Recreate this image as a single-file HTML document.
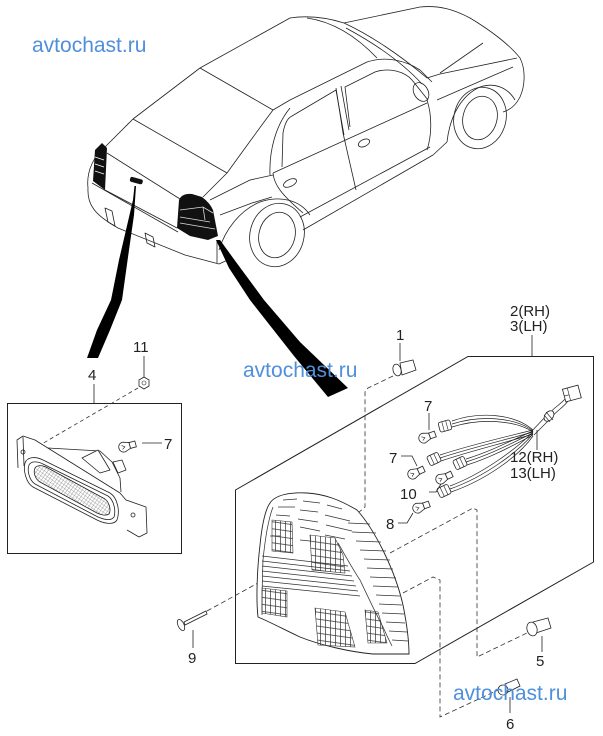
<!DOCTYPE html>
<html><head><meta charset="utf-8"><style>
html,body{margin:0;padding:0;background:#fff;}
svg{display:block;}
.t{font-family:"Liberation Sans",Arial,sans-serif;font-size:15px;fill:#222;}
.w{font-family:"Liberation Sans",Arial,sans-serif;font-size:21px;fill:#4f8fdb;}
</style></head><body>
<svg width="603" height="736" viewBox="0 0 603 736" xmlns="http://www.w3.org/2000/svg">
<defs>
<pattern id="grid" width="5" height="7" patternUnits="userSpaceOnUse" patternTransform="skewY(8)">
<path d="M0.5,0 V7 M0,0.5 H5" stroke="#333" stroke-width="0.7" fill="none"/>
</pattern>
<pattern id="hatch" width="3" height="3" patternUnits="userSpaceOnUse" patternTransform="rotate(35)">
<path d="M0,0 H3 M0,0 V3" stroke="#666" stroke-width="0.6" fill="none"/>
</pattern>
<g id="bulb">
<path d="M0,-5 C-7,-5 -7,5 0,5 L6,3 L6,-3 Z" fill="#fff" stroke="#222" stroke-width="0.8"/>
<rect x="6" y="-3" width="6" height="6" fill="#fff" stroke="#222" stroke-width="0.8"/>
<path d="M-2,-2 L1,0 L-2,2" fill="none" stroke="#222" stroke-width="0.6"/>
</g>
<g id="sock">
<rect x="-6" y="-5" width="12" height="10" rx="2" fill="#fff" stroke="#222" stroke-width="0.8"/>
<path d="M-2,-5 V5 M2,-5 V5" stroke="#222" stroke-width="0.6"/>
</g>
</defs>

<!-- ============ CAR ============ -->
<g fill="none" stroke="#222" stroke-width="0.8" stroke-linejoin="round">
<path d="M88,188 C86,170 95,155 105,147 L133,119 L200,68 L290,18 C310,15 328,18 344,23"/>
<path d="M200,68 L273,110"/>
<path d="M133,119 L227,173"/>
<path d="M227,173 C240,155 258,130 273,110"/>
<path d="M273,110 L290,100 L367,62 C385,56 405,60 420,70 L432,82"/>
<path d="M307,18 C335,22 358,38 377,58"/>
<path d="M344,23 C370,35 400,55 427,78"/>
<path d="M346,28 C372,42 400,60 422,84"/>
<path d="M344,23 L420,7 C440,5 455,10 470,18 C490,30 510,45 520,58 C526,70 525,86 520,97 C516,105 510,110 503,112"/>
<path d="M427,78 L440,74 L517,58"/>
<path d="M440,73 L483,43"/>
<path d="M437,100 L513,67"/>
<path d="M270,175 C269,150 276,125 290,108"/>
<path d="M282,167 L283,133 C285,122 288,118 292,116 L336,90 L344,135"/>
<path d="M350,127 L345,87 L375,72 C390,67 405,72 412,80 L428,100"/>
<path d="M336,88 L343,133 L356,190 M341,86 L349,130"/>
<path d="M273,173 L427,103"/>
<path d="M300,217 L430,147"/>
<path d="M303,230 L433,155"/>
<path d="M427,100 C432,115 432,135 427,150"/>
<path d="M273,173 C274,185 282,195 303,213"/>
<ellipse cx="421" cy="92" rx="7" ry="10" transform="rotate(-30 421 92)"/>
<ellipse cx="290" cy="183" rx="7" ry="3.5" transform="rotate(-25 290 183)"/>
<ellipse cx="364" cy="143" rx="6" ry="3.5" transform="rotate(-25 364 143)"/>
<ellipse cx="480" cy="118" rx="26" ry="31" transform="rotate(15 480 118)"/>
<ellipse cx="480" cy="118" rx="17" ry="22" transform="rotate(15 480 118)"/>
<path d="M447,142 C450,115 462,95 480,87 C495,82 508,88 515,100"/>
<path d="M433,155 L447,142"/>
<ellipse cx="277" cy="235" rx="27" ry="32" transform="rotate(15 277 235)"/>
<ellipse cx="277" cy="235" rx="18" ry="23" transform="rotate(15 277 235)"/>
<path d="M219,250 C225,230 240,210 260,202 C280,195 300,200 310,215"/>
<path d="M210,200 L250,180 L273,175 M220,215 L252,203 L272,197"/>
<path d="M217,240 L217,263"/>
<path d="M88,188 C87,205 95,215 118,228 L185,255 L219,264 L232,258"/>
<path d="M92,183 L178,232"/>
<path d="M107,153 L180,199"/>
<path d="M227,173 L203,197"/>
<path d="M105,190 L177,228"/>
<path d="M105,208 L108,222 L115,226 L112,211 Z M145,233 L147,243 L155,247 L153,237 Z"/>
</g>
<!-- tail lights -->
<path d="M102,143 L107,148 L105,190 L93,181 L95,150 Z" fill="#111"/>
<path d="M95,157 L104,160 M95,164 L104,167 M95,171 L104,174" stroke="#fff" stroke-width="0.8"/>
<path d="M179,200 Q182,193 192,194 L202,197 Q210,203 213,210 L218,236 L208,240 L190,236 L177,228 Z" fill="#111"/>
<path d="M180,210 L203,207 L213,213 M180,217 L210,222 M180,223 L215,229 M203,207 L205,220" stroke="#ddd" stroke-width="0.8" fill="none"/>
<rect x="130" y="178" width="13" height="5" rx="2" fill="#111" transform="rotate(15 136 180)"/>
<!-- thick leaders -->
<path d="M134.5,186 L136,186 L134,215 L129,250 L122,300 L110,330 L98,358 L87,358 L97,330 L111,300 L119,260 L126,230 L133,200 Z" fill="#000"/>
<path d="M216,240 L220,240 L236,262 L264,300 L300,342 L348,388 L328,397 L294,356 L250,300 L229,268 Z" fill="#000"/>

<!-- ============ BOX 4 ============ -->
<rect x="7.5" y="403.5" width="174" height="150" fill="none" stroke="#222" stroke-width="1"/>
<text class="t" x="88" y="380">4</text>
<path d="M94,384 V403" stroke="#222" stroke-width="0.8"/>
<text class="t" x="133" y="352">11</text>
<path d="M144,356 V377" stroke="#222" stroke-width="0.8"/>
<polygon points="144,377 149,380 149,386 144,389 139,386 139,380" fill="#fff" stroke="#222" stroke-width="0.8"/>
<circle cx="144" cy="383" r="2" fill="none" stroke="#222" stroke-width="0.6"/>
<path d="M138,388 L40,445" stroke="#333" stroke-width="0.8" stroke-dasharray="4,3" fill="none"/>
<text class="t" x="164" y="449">7</text>
<path d="M142,443 H162" stroke="#222" stroke-width="0.8"/>
<use href="#bulb" transform="translate(124,447) rotate(-15)"/>
<g fill="none" stroke="#222" stroke-width="0.8" stroke-linejoin="round">
<path d="M18,468 L17,440 L23,436 L35,440 L120,493 L126,500 L146,507 L147,533 L139,537 L127,530" fill="#fff"/>
<path d="M23,437 L24,466"/>
<path d="M48,448 L100,451 L112,462 L120,478 L121,492"/>
<path d="M82,458 L98,450 L110,470 L100,473 Z" fill="#fff"/>
<path d="M113,462 L122,460 L126,470 L118,473 Z" fill="#fff"/>
<circle cx="23" cy="452" r="2"/>
<circle cx="133" cy="515" r="2"/>
<path d="M25,463 C27,457 35,456 43,460 L110,493 C118,498 120,512 117,520 C114,525 105,524 97,520 L33,487 C26,483 23,470 25,463 Z" fill="#fff"/>
<path d="M29,465 C31,461 37,461 43,464 L108,496 C114,500 116,511 114,517 C111,521 105,520 98,517 L35,484 C29,480 27,470 29,465 Z"/>
<path d="M35,468 C37,465 42,465 46,467 L105,499 C110,503 111,511 109,514 C106,516 101,515 97,513 L40,482 C35,479 33,472 35,468 Z" fill="url(#hatch)"/>
</g>

<!-- ============ BOX 2/3 ============ -->
<polygon points="468,356.5 593.5,356.5 593.5,562 415,663.5 235.5,663.5 235.5,490" fill="none" stroke="#222" stroke-width="1"/>
<text class="t" x="510" y="316">2(RH)</text>
<text class="t" x="510" y="331">3(LH)</text>
<path d="M532,335 V356" stroke="#222" stroke-width="0.8"/>
<text class="t" x="396" y="340">1</text>
<path d="M400,343 V361" stroke="#222" stroke-width="0.8"/>
<g fill="#fff" stroke="#222" stroke-width="0.8">
<path d="M400,363 L413,360 L416,370 L402,375 Z"/>
<ellipse cx="397" cy="370" rx="4" ry="6" transform="rotate(-15 397 370)"/>
<path d="M533,622 L548,618 L551,628 L536,633 Z"/>
<ellipse cx="532" cy="629" rx="5" ry="7" transform="rotate(-15 532 629)"/>
<path d="M505,684 L517,679 L520,686 L508,692 Z"/>
<ellipse cx="503" cy="690" rx="5" ry="5" transform="rotate(-15 503 690)"/>
<path d="M184,622 L206,611 L207,614 L185,625 Z"/>
<ellipse cx="181" cy="625" rx="3" ry="6" transform="rotate(-25 181 625)"/>
</g>
<text class="t" x="536" y="666">5</text>
<path d="M542,636 V652" stroke="#222" stroke-width="0.8"/>
<text class="t" x="506" y="729">6</text>
<path d="M510,697 V713" stroke="#222" stroke-width="0.8"/>
<text class="t" x="188" y="663">9</text>
<path d="M193,630 V648" stroke="#222" stroke-width="0.8"/>

<!-- dashed -->
<g fill="none" stroke="#333" stroke-width="0.8" stroke-dasharray="5,3">
<path d="M393,376 L368,388 L365,392 L365,507 L358,513"/>
<path d="M390,553 L473,508 L477,510 L477,657 L527,633"/>
<path d="M403,593 L433,577 L440,580 L440,717 L498,690"/>
<path d="M207,611 L258,583"/>
</g>

<!-- main lamp -->
<g fill="none" stroke="#333" stroke-width="0.75">
<path d="M270,503 C275,495 290,492 307,493 C325,494 340,500 357,510 C375,530 395,570 403,605 C407,625 409,640 409,654 L373,654 C350,652 320,645 300,637 C285,630 270,622 258,617 C256,600 257,570 260,545 C262,525 265,510 270,503 Z" fill="#fff" stroke="#222" stroke-width="0.9"/>
<path d="M273,507 C268,520 265,540 263,560 C262,585 262,600 262,615"/>
<path d="M338,543 C345,555 352,568 360,580 C368,597 375,612 383,627 C386,634 389,640 392,646"/>
<path d="M283,500 L297,499 M303,501 L320,503 M327,505 L342,509 M278,507 L295,507 M300,510 L318,512 M325,515 L350,521 M276,515 L290,516 M298,519 L318,522 M326,525 L352,531 M300,527 L320,531 M325,535 L345,539 M270,536 L280,536 M300,540 L310,541"/>
<path d="M262,556 L348,566 M262,561 L350,571 M262,566 L352,576 M262,571 L354,581 M262,576 L356,586 M262,581 L358,591 M262,586 L360,596"/>
<path d="M348,523 L370,524 M352,532 L376,533 M356,541 L381,542 M360,550 L386,551 M364,559 L390,560 M367,568 L393,569 M370,577 L396,578 M373,586 L398,587 M376,595 L400,596 M379,604 L402,605 M382,613 L404,614 M386,622 L405,623 M389,631 L407,632 M392,640 L408,641"/>
</g>
<g stroke="#333" stroke-width="0.6">
<polygon points="272,520 292,522 293,553 272,551" fill="url(#grid)"/>
<polygon points="310,535 335,538 343,555 345,573 312,570" fill="url(#grid)"/>
<polygon points="262,588 287,591 287,617 262,613" fill="url(#grid)"/>
<polygon points="315,608 345,612 355,647 318,645" fill="url(#grid)"/>
<polygon points="365,610 378,612 387,643 368,643" fill="url(#grid)"/>
</g>

<!-- harness -->
<g fill="none" stroke="#222" stroke-width="0.7">
<path d="M533,430 C515,414 480,411 452,421 M533,431 C515,417 480,415 452,424 M533,432 C515,420 480,418 452,427"/>
<path d="M533,430 C505,437 470,445 440,455 M533,432 C505,440 470,448 440,458 M533,434 C505,443 470,451 441,461"/>
<path d="M533,431 C512,440 492,451 466,459 M533,433 C512,443 492,454 466,462 M533,435 C512,446 492,457 467,465"/>
<path d="M533,432 C515,450 482,474 450,486 M533,434 C517,453 484,477 450,489 M533,436 C519,456 486,480 451,492"/>
<path d="M530,433 L548,414 M534,435 L551,418"/>
<path d="M549,414 C553,408 560,405 566,398 M552,417 C556,411 563,408 568,401"/>
</g>
<ellipse cx="549" cy="416" rx="4" ry="6" transform="rotate(40 549 416)" fill="#fff" stroke="#222" stroke-width="0.8"/>
<path d="M546,412 L553,420 M544,415 L550,422" stroke="#222" stroke-width="0.6"/>
<g transform="translate(572,394) rotate(-15)">
<rect x="-8" y="-7" width="16" height="13" fill="#fff" stroke="#222" stroke-width="0.8"/>
<path d="M-3,-7 V6 M-8,0 H-3" stroke="#222" stroke-width="0.6"/>
</g>
<use href="#sock" transform="translate(445,426) rotate(-15)"/>
<use href="#sock" transform="translate(434,459) rotate(-25)"/>
<use href="#sock" transform="translate(460,463) rotate(-25)"/>
<use href="#sock" transform="translate(444,491) rotate(-25)"/>
<use href="#bulb" transform="translate(424,438) rotate(-20)"/>
<use href="#bulb" transform="translate(413,474) rotate(-25)"/>
<use href="#bulb" transform="translate(441,479) rotate(-25)"/>
<use href="#bulb" transform="translate(418,508) rotate(-20)"/>
<text class="t" x="424" y="411">7</text>
<path d="M429,413 V430" stroke="#222" stroke-width="0.8"/>
<text class="t" x="389" y="463">7</text>
<path d="M401,456 H412 L417,466" stroke="#222" stroke-width="0.8" fill="none"/>
<text class="t" x="400" y="499">10</text>
<path d="M429,492 H436 L441,484" stroke="#222" stroke-width="0.8" fill="none"/>
<text class="t" x="386" y="529">8</text>
<path d="M398,523 H407 L413,513" stroke="#222" stroke-width="0.8" fill="none"/>
<text class="t" x="510" y="462">12(RH)</text>
<text class="t" x="510" y="478">13(LH)</text>
<path d="M537,430 V450" stroke="#222" stroke-width="0.8"/>

<!-- watermarks -->
<text class="w" x="32" y="52">avtochast.ru</text>
<text class="w" x="243" y="377">avtochast.ru</text>
<text class="w" x="453" y="700">avtochast.ru</text>
</svg>
</body></html>
